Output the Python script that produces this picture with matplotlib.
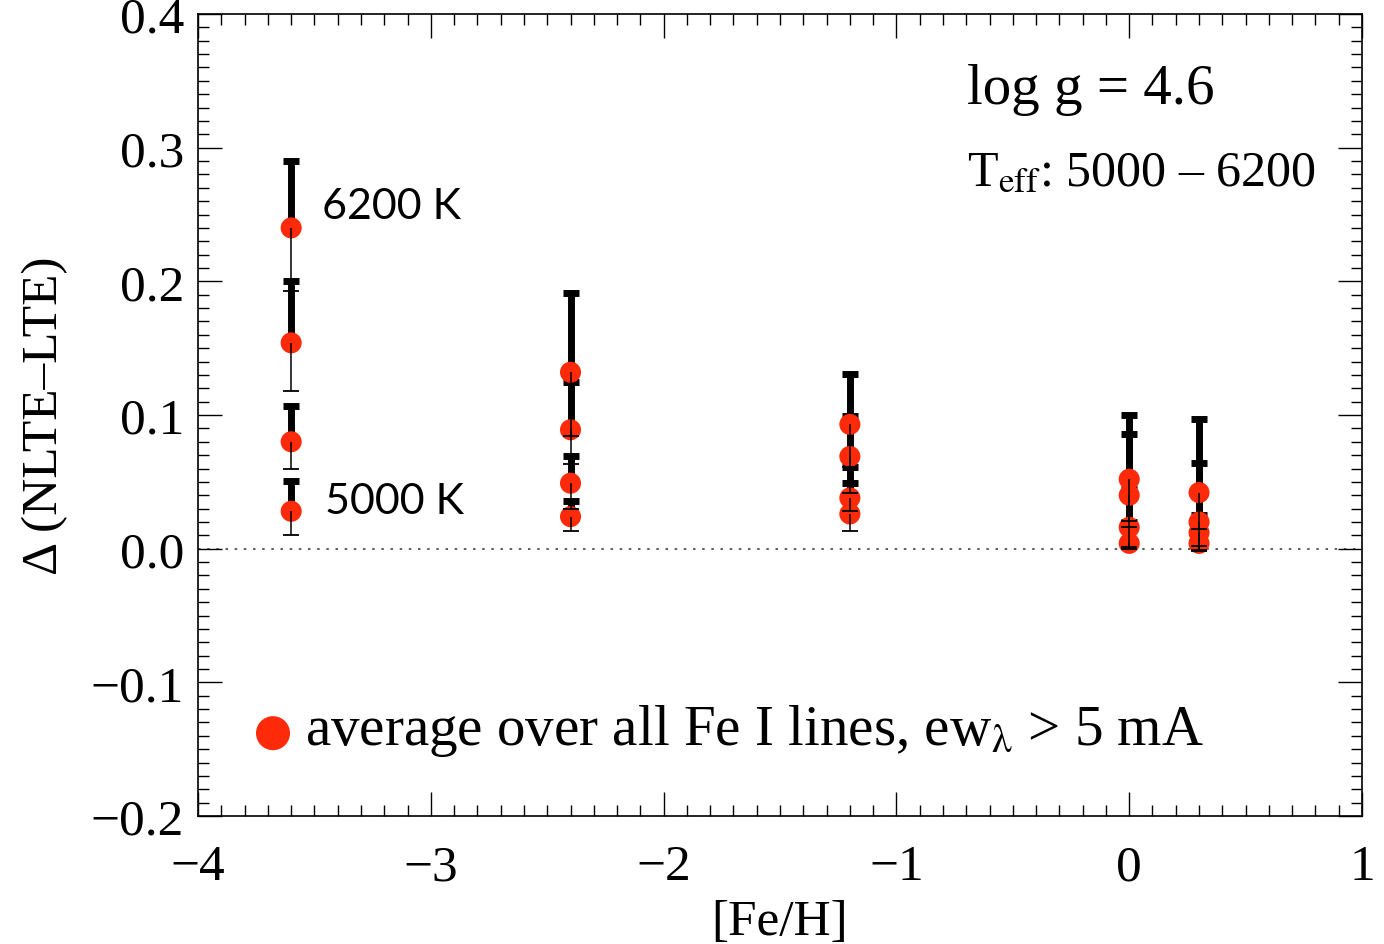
import matplotlib
matplotlib.use("Agg")
import matplotlib.pyplot as plt
from matplotlib.ticker import MultipleLocator

plt.rcParams['font.family'] = ['Liberation Serif', 'DejaVu Serif']
plt.rcParams['mathtext.fontset'] = 'stix'

# four Teff models (6200 K ... 5000 K) per metallicity
feh = [-3.6, -3.6, -3.6, -3.6,
       -2.4, -2.4, -2.4, -2.4,
       -1.2, -1.2, -1.2, -1.2,
       0.0, 0.0, 0.0, 0.0,
       0.3, 0.3, 0.3, 0.3]
delta = [0.240, 0.154, 0.080, 0.028,
         0.132, 0.089, 0.049, 0.024,
         0.093, 0.069, 0.038, 0.026,
         0.052, 0.040, 0.016, 0.004,
         0.042, 0.020, 0.012, 0.004]
delta_max = [0.290, 0.200, 0.107, 0.051,
             0.191, 0.125, 0.069, 0.036,
             0.131, 0.099, 0.061, 0.049,
             0.100, 0.086, 0.045, 0.020,
             0.097, 0.064, 0.025, 0.015]
delta_min = [0.193, 0.118, 0.060, 0.010,
             0.084, 0.063, 0.030, 0.013,
             0.061, 0.042, 0.028, 0.013,
             0.021, 0.016, 0.001, 0.000,
             0.015, 0.002, -0.001, -0.002]

red = '#ff2a0a'

fig = plt.figure(figsize=(13.84, 9.45), dpi=100)
ax = fig.add_axes([0.1431, 0.1354, 0.841, 0.8487])

# thick bars up to the max, thin bars down to the min
ax.vlines(feh, delta, delta_max, colors='black', linewidth=5, zorder=2)
ax.plot(feh, delta_max, linestyle='none', marker='_', markersize=12,
        markeredgewidth=5, color='black', zorder=2)
ax.scatter(feh, delta, s=230, color=red, edgecolors='none', zorder=3)
ax.vlines(feh, delta_min, delta, colors='black', linewidth=1.1, zorder=4)
ax.plot(feh, delta_min, linestyle='none', marker='_', markersize=12,
        markeredgewidth=1.3, color='black', zorder=4)

ax.axhline(0.0, color='#444444', linestyle=(0, (1.5, 4)), linewidth=1.2, zorder=1)

ax.set_xlim(-4, 1)
ax.set_ylim(-0.2, 0.4)
ax.xaxis.set_major_locator(MultipleLocator(1))
ax.xaxis.set_minor_locator(MultipleLocator(0.1))
ax.yaxis.set_major_locator(MultipleLocator(0.1))
ax.yaxis.set_minor_locator(MultipleLocator(0.01))
ax.yaxis.set_major_formatter(plt.FuncFormatter(lambda v, p: f"{v:.1f}".replace('-', '\u2212')))
ax.tick_params(which='both', direction='in', top=True, right=True, labelsize=37)
ax.tick_params(which='major', length=17, width=1.0)
ax.tick_params(which='minor', length=8, width=1.0)
ax.tick_params(axis='x', which='major', pad=20)
ax.tick_params(axis='y', which='major', pad=10)
for sp in ax.spines.values():
    sp.set_linewidth(1.2)

ax.set_xlabel('[Fe/H]', fontsize=37, labelpad=6)
ax.set_ylabel('\u0394 (NLTE\u2013LTE)', fontsize=37, labelpad=16)

ax.text(-3.467, 0.2566, '6200 K', fontsize=31, family='Lato', va='center')
ax.text(-3.455, 0.036, '5000 K', fontsize=31, family='Lato', va='center')
ax.text(-0.697, 0.3436, 'log g = 4.6', fontsize=41, va='center')
ax.text(-0.697, 0.282, 'T$_{\\rm eff}$: 5000 \u2013 6200', fontsize=36, va='center')

ax.scatter([-3.678], [-0.138], s=600, color=red, edgecolors='none', zorder=3)
ax.text(-3.54, -0.136, 'average over all Fe I lines, ew$_{\\rm \u03bb}$ > 5 mA',
        fontsize=41, va='center')

fig.savefig('out.png', dpi=100)
